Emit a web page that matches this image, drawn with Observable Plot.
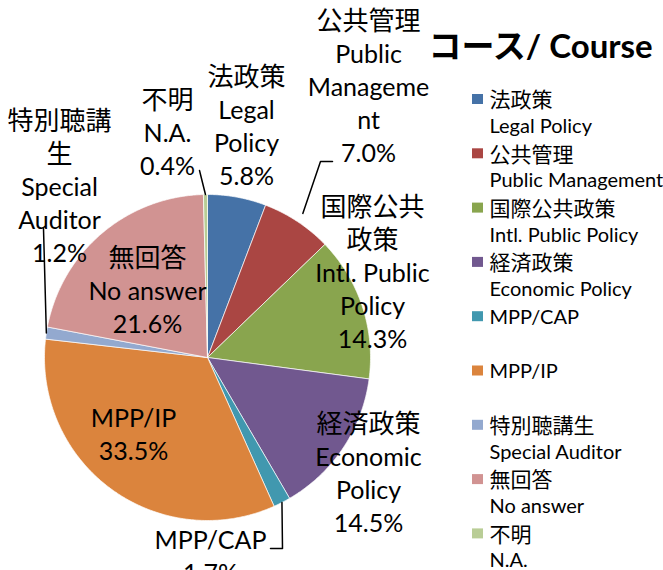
<!DOCTYPE html>
<html>
<head>
<meta charset="utf-8">
<script src="https://cdn.jsdelivr.net/npm/d3@7"></script>
<script src="https://cdn.jsdelivr.net/npm/@observablehq/plot@0.6"></script>
<style>
  html, body { margin: 0; padding: 0; background: #fff; }
  #chart svg { display: block; }
</style>
</head>
<body>
<div id="chart"></div>
<script>
// ---- data ----
const categories = ["法政策", "公共管理", "国際公共政策", "経済政策", "MPP/CAP", "MPP/IP", "特別聴講生", "無回答", "不明"];
const englishNames = ["Legal Policy", "Public Management", "Intl. Public Policy", "Economic Policy", "", "", "Special Auditor", "No answer", "N.A."];
const shares = [5.8, 7.0, 14.3, 14.5, 1.7, 33.5, 1.2, 21.6, 0.4];
// data-label text as wrapped in the chart (without percentage)
const labelText = [
  ["法政策", "Legal", "Policy"],
  ["公共管理", "Public", "Manageme", "nt"],
  ["国際公共", "政策", "Intl. Public", "Policy"],
  ["経済政策", "Economic", "Policy"],
  ["MPP/CAP"],
  ["MPP/IP"],
  ["特別聴講", "生", "Special", "Auditor"],
  ["無回答", "No answer"],
  ["不明", "N.A."]
];
const legendTitle = "コース/ Course";

// ---- style / layout ----
const colors = ["#4572A7", "#AA4643", "#89A54E", "#71588F", "#4198AF", "#DB843D", "#93A9CF", "#D19392", "#B9CD96"];
const W = 663, H = 570;
const cx = 207, cy = 357, R = 163;
const labelAnchor = [[246, 77], [368, 21], [372, 207], [368, 424], [210, 540], [133, 418], [59, 121], [147, 258], [167, 100]];
const lineGap = 33;
// leader lines: label-side points, then ends at slice edge
const leaderPts = {1: [[332, 161], [320, 161]], 4: [[270, 548], [282, 548]], 6: [[43, 228]], 8: [[199, 170]]};
const leaderR = {1: 1.06, 4: 1.0, 6: 1.0, 8: 1.0};

const isCJK = s => /[\u3000-\u9fff\u30a0-\u30ff]/.test(s);

// ---- pie geometry ----
const arcs = d3.pie().sort(null).value(d => d)(shares);
const slicePts = [];
arcs.forEach((a, i) => {
  slicePts.push({k: categories[i], x: cx, y: cy});
  const n = Math.max(2, Math.ceil((a.endAngle - a.startAngle) / 0.01));
  for (let j = 0; j <= n; j++) {
    const t = a.startAngle + (a.endAngle - a.startAngle) * j / n;
    slicePts.push({k: categories[i], x: cx + R * Math.sin(t), y: cy - R * Math.cos(t)});
  }
  slicePts.push({k: categories[i], x: cx, y: cy});
});

// ---- labels ----
const labelRows = [];
labelText.forEach((lines, i) => {
  const all = [...lines, shares[i].toFixed(1) + "%"];
  all.forEach((t, j) => labelRows.push({t, x: labelAnchor[i][0], y: labelAnchor[i][1] + j * lineGap, cjk: isCJK(t)}));
});

// ---- leaders ----
const leaderRows = [];
Object.keys(leaderPts).forEach(key => {
  const i = +key, a = arcs[i], m = (a.startAngle + a.endAngle) / 2, rr = R * leaderR[i];
  leaderPts[i].forEach(p => leaderRows.push({k: i, x: p[0], y: p[1]}));
  leaderRows.push({k: i, x: cx + rr * Math.sin(m), y: cy - rr * Math.cos(m)});
});

// ---- legend ----
const legX = 472, legY0 = 99, legStep = 54.3, legSub = 26;
const legendSw = categories.map((c, i) => ({k: c, x1: legX, x2: legX + 11, y1: legY0 + i * legStep - 5, y2: legY0 + i * legStep + 5}));
const legendRows = [];
categories.forEach((c, i) => {
  legendRows.push({t: c, x: legX + 17, y: legY0 + i * legStep + 1, cjk: isCJK(c)});
  if (englishNames[i]) legendRows.push({t: englishNames[i], x: legX + 17, y: legY0 + i * legStep + 1 + legSub, cjk: false});
});

const chart = Plot.plot({
  width: W, height: H,
  margin: 0,
  x: {domain: [0, W], range: [0, W], axis: null},
  y: {domain: [0, H], range: [0, H], axis: null},
  color: {domain: categories, range: colors},
  style: {fontFamily: "Lato, 'Noto Sans CJK JP', sans-serif", background: "#fff", overflow: "visible", color: "#000"},
  marks: [
    Plot.line(slicePts, {x: "x", y: "y", z: "k", fill: "k", stroke: "white", strokeWidth: 0.8, strokeOpacity: 0.85}),
    Plot.line(leaderRows, {x: "x", y: "y", z: "k", stroke: "#000", strokeWidth: 1.5}),
    Plot.text(labelRows, {x: "x", y: "y", text: "t", textAnchor: "middle", lineAnchor: "middle", fill: "#000",
      fontSize: d => d.cjk ? 26 : 25}),
    Plot.rect(legendSw, {x1: "x1", x2: "x2", y1: "y1", y2: "y2", fill: "k"}),
    Plot.text(legendRows, {x: "x", y: "y", text: "t", textAnchor: "start", lineAnchor: "middle", fill: "#000",
      fontSize: d => d.cjk ? 21 : 20}),
    Plot.text([legendTitle], {x: 428, y: 47, text: d => d, textAnchor: "start", lineAnchor: "middle", fill: "#000",
      fontSize: 33, fontWeight: "bold"})
  ]
});
document.getElementById("chart").appendChild(chart);
</script>
</body>
</html>
